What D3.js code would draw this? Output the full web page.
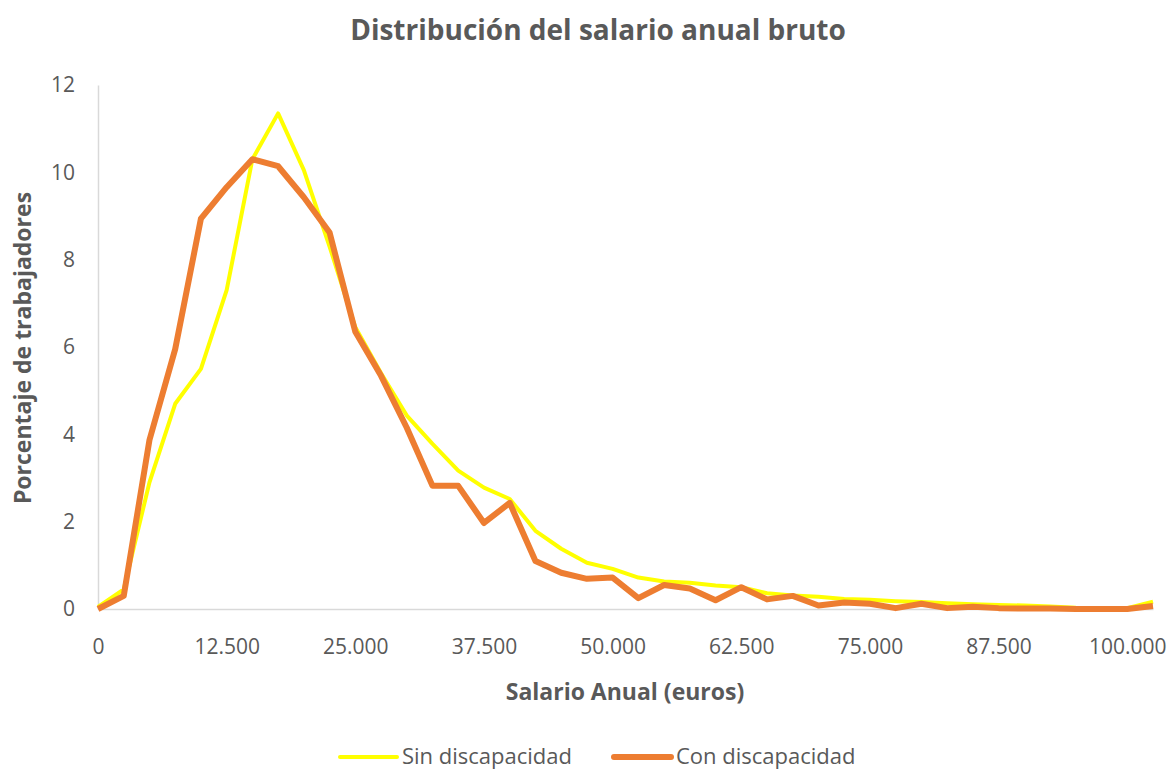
<!DOCTYPE html>
<html>
  <head>
    <meta charset="utf-8">
    <title>Distribución del salario anual bruto</title>
    <style>
      body { margin: 0; background: #fff; }
      svg { display: block; font-family: "Open Sans", sans-serif; }
      .tick text { fill: #595959; font-size: 21px; }
    </style>
  </head>
  <body>
    <div id="chart"></div>
    <script src="https://cdn.jsdelivr.net/npm/d3@7"></script>
    <script>

    // salary bands (euros), one every 2.500
    var salarios = [0, 2500, 5000, 7500, 10000, 12500, 15000, 17500, 20000, 22500,
      25000, 27500, 30000, 32500, 35000, 37500, 40000, 42500, 45000, 47500,
      50000, 52500, 55000, 57500, 60000, 62500, 65000, 67500, 70000, 72500,
      75000, 77500, 80000, 82500, 85000, 87500, 90000, 92500, 95000, 97500,
      100000, 102500]

    var sinDiscapacidad = [0.05, 0.45, 2.9, 4.7, 5.5, 7.3, 10.3, 11.35, 10.05, 8.3,
      6.45, 5.4, 4.43, 3.78, 3.17, 2.78, 2.52, 1.79, 1.38, 1.06,
      0.92, 0.72, 0.63, 0.6, 0.54, 0.5, 0.36, 0.31, 0.28, 0.23,
      0.21, 0.18, 0.16, 0.13, 0.11, 0.09, 0.08, 0.06, 0.03, 0.02,
      0.02, 0.17]

    var conDiscapacidad = [0, 0.3, 3.87, 5.95, 8.94, 9.66, 10.3, 10.14, 9.43, 8.62,
      6.35, 5.34, 4.15, 2.82, 2.82, 1.97, 2.43, 1.1, 0.83, 0.69,
      0.72, 0.25, 0.55, 0.47, 0.2, 0.5, 0.22, 0.3, 0.08, 0.15,
      0.12, 0.02, 0.12, 0.02, 0.05, 0.02, 0.01, 0.01, 0, 0,
      0, 0.07]

    var xTicks = [0, 12500, 25000, 37500, 50000, 62500, 75000, 87500, 100000]
    var yTicks = [0, 2, 4, 6, 8, 10, 12]

    // note: "top" is taken by window.top, so plot edges get their own names
    var width = 1172,
        height = 771,
        plotLeft = 98,
        plotRight = 1153,
        plotTop = 85,
        plotBottom = 609

    var es = d3.formatLocale({decimal: ",", thousands: ".", grouping: [3], currency: ["", " €"]})
    var fmt = es.format(",")

    var svg = d3.select('#chart')
      .append('svg')
      .attr('width', width)
      .attr('height', height)

    var x = d3.scalePoint().domain(salarios).range([plotLeft, plotRight])
    var y = d3.scaleLinear().domain([0, 12]).range([plotBottom, plotTop])

    // axes
    var xAxis = svg.append('g')
      .attr('transform', 'translate(0,' + plotBottom + ')')
      .call(d3.axisBottom(x).tickValues(xTicks).tickSize(0).tickPadding(30).tickFormat(fmt))
    xAxis.select('.domain').attr('stroke', '#d9d9d9').attr('stroke-width', 1.5)

    var yAxis = svg.append('g')
      .attr('transform', 'translate(' + plotLeft + ',0)')
      .call(d3.axisLeft(y).tickValues(yTicks).tickSize(0).tickPadding(23))
    yAxis.select('.domain').attr('stroke', '#d9d9d9').attr('stroke-width', 1.5)
    svg.selectAll('.tick text').attr('font-family', '"Open Sans", sans-serif')

    // lines
    var line = function(vals) {
      return d3.line()
        .x(function(d, i) { return x(salarios[i]) })
        .y(function(d) { return y(d) })(vals)
    }

    svg.append('path')
      .attr('d', line(sinDiscapacidad))
      .attr('fill', 'none')
      .attr('stroke', '#ffff00')
      .attr('stroke-width', 4)
      .attr('stroke-linejoin', 'round')

    svg.append('path')
      .attr('d', line(conDiscapacidad))
      .attr('fill', 'none')
      .attr('stroke', '#ed7d31')
      .attr('stroke-width', 6)
      .attr('stroke-linejoin', 'round')

    // titles
    svg.append('text')
      .attr('x', 598).attr('y', 40)
      .attr('text-anchor', 'middle')
      .attr('font-size', 28).attr('font-weight', 'bold')
      .attr('fill', '#595959')
      .text('Distribución del salario anual bruto')

    svg.append('text')
      .attr('x', 625).attr('y', 700)
      .attr('text-anchor', 'middle')
      .attr('font-size', 23).attr('font-weight', 'bold')
      .attr('fill', '#595959')
      .text('Salario Anual (euros)')

    svg.append('text')
      .attr('transform', 'translate(31,348) rotate(-90)')
      .attr('text-anchor', 'middle')
      .attr('font-size', 23).attr('font-weight', 'bold')
      .attr('fill', '#595959')
      .text('Porcentaje de trabajadores')

    // legend
    var legend = [
      {name: 'Sin discapacidad', color: '#ffff00', w: 4, x: 340},
      {name: 'Con discapacidad', color: '#ed7d31', w: 6, x: 614}
    ]
    var lg = svg.selectAll('.legend').data(legend).enter().append('g')
      .attr('class', 'legend')
      .attr('transform', function(d) { return 'translate(' + d.x + ',757)' })
    lg.append('line')
      .attr('x1', 0).attr('x2', 57)
      .attr('stroke', function(d) { return d.color })
      .attr('stroke-width', function(d) { return d.w })
      .attr('stroke-linecap', 'round')
    lg.append('text')
      .attr('x', 62).attr('y', 7)
      .attr('font-size', 22)
      .attr('fill', '#595959')
      .text(function(d) { return d.name })

    </script>
  </body>
</html>
